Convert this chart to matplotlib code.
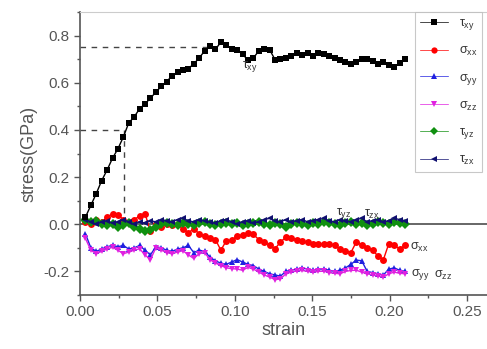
import matplotlib
matplotlib.use("Agg")
import matplotlib.pyplot as plt
from matplotlib.lines import Line2D

plt.rcParams['font.family'] = ['Liberation Sans', 'DejaVu Sans']
plt.rcParams['mathtext.fontset'] = 'custom'
plt.rcParams['mathtext.rm'] = 'Liberation Sans'
plt.rcParams['mathtext.it'] = 'Liberation Sans'

# ---- data ----
strain = [0.0035, 0.0070, 0.0105, 0.0140, 0.0175, 0.0210, 0.0245, 0.0280, 0.0315, 0.0350,
          0.0385, 0.0420, 0.0455, 0.0490, 0.0525, 0.0560, 0.0595, 0.0630, 0.0665, 0.0700,
          0.0735, 0.0770, 0.0805, 0.0840, 0.0875, 0.0910, 0.0945, 0.0980, 0.1015, 0.1050,
          0.1085, 0.1120, 0.1155, 0.1190, 0.1225, 0.1260, 0.1295, 0.1330, 0.1365, 0.1400,
          0.1435, 0.1470, 0.1505, 0.1540, 0.1575, 0.1610, 0.1645, 0.1680, 0.1715, 0.1750,
          0.1785, 0.1820, 0.1855, 0.1890, 0.1925, 0.1960, 0.1995, 0.2030, 0.2065, 0.2100]

tau_xy = [0.03, 0.08, 0.13, 0.185, 0.23, 0.28, 0.32, 0.37, 0.43, 0.455,
          0.49, 0.51, 0.535, 0.56, 0.585, 0.605, 0.63, 0.645, 0.652, 0.66,
          0.68, 0.705, 0.735, 0.757, 0.742, 0.772, 0.758, 0.745, 0.738, 0.722,
          0.695, 0.705, 0.735, 0.743, 0.740, 0.698, 0.701, 0.706, 0.715, 0.727,
          0.719, 0.726, 0.714, 0.726, 0.722, 0.714, 0.703, 0.698, 0.688, 0.681,
          0.689, 0.699, 0.699, 0.692, 0.681, 0.690, 0.677, 0.668, 0.684, 0.701]

sigma_xx = [0.01, 0.00, 0.02, 0.01, 0.03, 0.045, 0.04, 0.02, 0.01, 0.02,
            0.035, 0.045, -0.03, 0.00, -0.01, 0.00, -0.005, 0.00, -0.02, -0.035,
            -0.02, -0.04, -0.05, -0.06, -0.065, -0.11, -0.07, -0.068, -0.05, -0.045,
            -0.038, -0.043, -0.065, -0.075, -0.09, -0.104, -0.075, -0.055, -0.06, -0.065,
            -0.072, -0.076, -0.082, -0.082, -0.085, -0.083, -0.09, -0.104, -0.112, -0.12,
            -0.075, -0.088, -0.10, -0.11, -0.135, -0.15, -0.082, -0.09, -0.104, -0.09]

sigma_yy = [-0.04, -0.10, -0.115, -0.105, -0.095, -0.09, -0.095, -0.09, -0.105, -0.10,
            -0.09, -0.11, -0.13, -0.095, -0.10, -0.11, -0.115, -0.105, -0.10, -0.09,
            -0.12, -0.11, -0.115, -0.14, -0.155, -0.165, -0.17, -0.16, -0.15, -0.16,
            -0.17, -0.175, -0.19, -0.20, -0.21, -0.215, -0.22, -0.20, -0.195, -0.19,
            -0.185, -0.19, -0.195, -0.19, -0.19, -0.195, -0.20, -0.195, -0.185, -0.17,
            -0.152, -0.155, -0.20, -0.205, -0.21, -0.215, -0.19, -0.185, -0.195, -0.20]

sigma_zz = [-0.06, -0.11, -0.125, -0.115, -0.105, -0.098, -0.11, -0.125, -0.118, -0.11,
            -0.104, -0.13, -0.15, -0.10, -0.11, -0.12, -0.125, -0.118, -0.112, -0.13,
            -0.145, -0.125, -0.12, -0.15, -0.165, -0.175, -0.185, -0.188, -0.19, -0.195,
            -0.183, -0.19, -0.203, -0.215, -0.224, -0.235, -0.232, -0.21, -0.203, -0.198,
            -0.196, -0.20, -0.203, -0.20, -0.199, -0.205, -0.208, -0.21, -0.20, -0.196,
            -0.195, -0.203, -0.21, -0.215, -0.22, -0.224, -0.21, -0.203, -0.208, -0.21]

tau_yz = [0.02, 0.01, 0.015, 0.0, -0.005, 0.0, -0.01, -0.005, 0.005, -0.01,
          -0.02, -0.03, -0.025, -0.01, 0.0, 0.005, 0.0, -0.005, 0.005, 0.0,
          -0.005, 0.005, 0.01, 0.0, -0.005, 0.0, 0.005, 0.0, 0.005, -0.005,
          0.0, 0.005, 0.01, 0.0, -0.005, 0.005, 0.0, -0.01, 0.0, 0.005,
          0.0, -0.005, 0.005, 0.0, 0.01, 0.005, 0.0, -0.005, 0.005, 0.01,
          0.0, 0.005, -0.005, 0.0, 0.01, 0.005, 0.0, 0.01, 0.005, 0.0]

tau_zx = [0.02, 0.01, 0.0, 0.01, 0.015, 0.005, 0.01, 0.02, 0.01, 0.0,
          0.01, 0.005, 0.015, 0.01, 0.02, 0.015, 0.01, 0.02, 0.025, 0.015,
          0.01, 0.02, 0.015, 0.01, 0.005, 0.015, 0.02, 0.01, 0.0, 0.01,
          0.015, 0.005, 0.01, 0.02, 0.025, 0.015, 0.01, 0.02, 0.01, 0.015,
          0.02, 0.01, 0.015, 0.02, 0.025, 0.015, 0.01, 0.02, 0.015, 0.01,
          0.02, 0.025, 0.01, 0.015, 0.02, 0.01, 0.015, 0.025, 0.02, 0.015]

labels = [r'$\tau_{xy}$', r'$\sigma_{xx}$', r'$\sigma_{yy}$', r'$\sigma_{zz}$', r'$\tau_{yz}$', r'$\tau_{zx}$']
colors = ['#000000', '#ff0000', '#2020e0', '#e020e0', '#109010', '#101070']
markers = ['s', 'o', '^', 'v', 'D', '<']

x_ticks = [0.00, 0.05, 0.10, 0.15, 0.20, 0.25]
y_ticks = [-0.2, 0.0, 0.2, 0.4, 0.6, 0.8]

# reference lines
yield_strain, yield_stress = 0.0287, 0.40
peak_strain, peak_stress = 0.083, 0.753

# ---- figure ----
fig = plt.figure(figsize=(4.87, 3.49), dpi=100)
ax = fig.add_axes([80/487, 1-295/349, 1-80/487, (295-12)/349])

gray = '#555555'
ax.axhline(0, color='#666666', lw=1.4, zorder=1)
ax.plot([0, peak_strain], [peak_stress, peak_stress], ls=(0, (4, 4)), color='#444444', lw=1.0, zorder=1)
ax.plot([0, yield_strain], [yield_stress, yield_stress], ls=(0, (4, 4)), color='#444444', lw=1.0, zorder=1)
ax.plot([yield_strain, yield_strain], [0, yield_stress], ls=(0, (4, 4)), color='#444444', lw=1.0, zorder=1)

series = [tau_xy, sigma_xx, sigma_yy, sigma_zz, tau_yz, tau_zx]
handles = []
for i in range(6):
    h = Line2D([], [], color=colors[i], marker=markers[i], ms=4.5, lw=0.5, alpha=1.0,
               markeredgewidth=0)
    handles.append(h)
for i in [1, 2, 3, 4, 5, 0]:
    ax.plot(strain, series[i], color=colors[i], marker=markers[i], ms=5, lw=1.0,
            markeredgewidth=0, zorder=3 if i == 0 else 2)

ax.set_xlim(0, (487-80)/1548)
ax.set_ylim(-0.3, 0.9)
ax.set_xticks(x_ticks)
ax.set_xticklabels(['%.2f' % v for v in x_ticks])
ax.set_yticks(y_ticks)
ax.set_yticklabels(['%.1f' % v for v in y_ticks])
ax.set_xticks([0.025, 0.075, 0.125, 0.175, 0.225], minor=True)
ax.set_yticks([-0.3, -0.1, 0.1, 0.3, 0.5, 0.7, 0.9], minor=True)
ax.tick_params(axis='both', which='major', direction='out', length=4, width=1, colors=gray,
               labelsize=11, labelcolor=gray)
ax.tick_params(axis='both', which='minor', direction='out', length=2.5, width=1, colors=gray)

ax.spines['right'].set_visible(False)
ax.spines['top'].set_color('#cccccc')
ax.spines['left'].set_color(gray)
ax.spines['bottom'].set_color(gray)
ax.spines['left'].set_linewidth(1.2)
ax.spines['bottom'].set_linewidth(1.2)

ax.set_xlabel('strain', fontsize=13, color=gray, labelpad=2)
ax.set_ylabel('stress(GPa)', fontsize=13, color=gray, labelpad=4)

tc = '#333333'
ax.text(0.1045, 0.70, r'$\tau_{xy}$', fontsize=9, color=tc, va='top', ha='left')
ax.text(0.1655, 0.015, r'$\tau_{yz}$', fontsize=9, color=tc, va='bottom', ha='left')
ax.text(0.1835, 0.015, r'$\tau_{zx}$', fontsize=9, color=tc, va='bottom', ha='left')
ax.text(0.2135, -0.10, r'$\sigma_{xx}$', fontsize=9, color=tc, va='center', ha='left')
ax.text(0.2140, -0.215, r'$\sigma_{yy}$', fontsize=9, color=tc, va='center', ha='left')
ax.text(0.2290, -0.215, r'$\sigma_{zz}$', fontsize=9, color=tc, va='center', ha='left')

leg = fig.legend(handles, labels, loc='upper left', bbox_to_anchor=(415/487, 1-12/349),
                 frameon=True, fancybox=False, edgecolor='#bbbbbb', fontsize=9,
                 labelspacing=1.05, handlelength=2.2, handletextpad=0.9, borderpad=0.4,
                 labelcolor='#333333', borderaxespad=0)
leg.get_frame().set_linewidth(0.8)

fig.savefig('out.png', dpi=100)
